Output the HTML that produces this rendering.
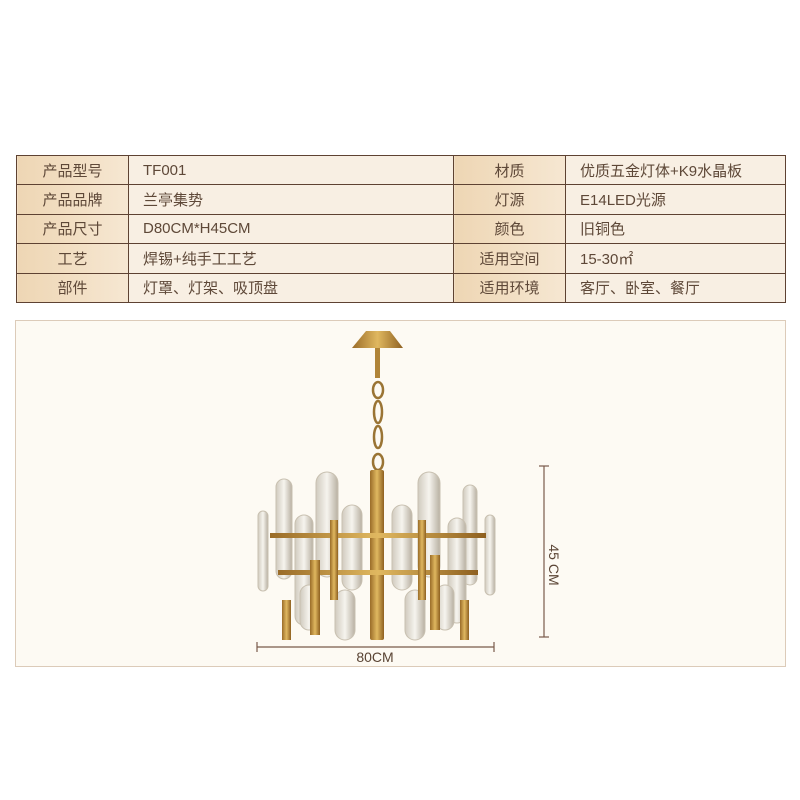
<!DOCTYPE html>
<html><head><meta charset="utf-8"><style>
body{margin:0;width:800px;height:800px;background:#fff;position:relative;overflow:hidden;font-family:"Liberation Sans","Noto Sans CJK SC",sans-serif;}
table{position:absolute;left:16px;top:155px;width:769px;border-collapse:collapse;table-layout:fixed;}
td{border:1px solid #5e4232;height:28.4px;padding:0;font-size:15px;color:#5e4838;}
td.l{background:linear-gradient(90deg,#eed6b4,#f6e7d2);text-align:center;}
td.v{background:#f8efe3;padding-left:14px;}
.panel{position:absolute;left:15px;top:320px;width:769px;height:345px;background:#fdfaf3;border:1px solid #dccbb9;}
</style></head><body>
<table>
<colgroup><col style="width:112px"><col style="width:325px"><col style="width:112px"><col style="width:220px"></colgroup>
<tr><td class="l">产品型号</td><td class="v">TF001</td><td class="l">材质</td><td class="v">优质五金灯体+K9水晶板</td></tr>
<tr><td class="l">产品品牌</td><td class="v">兰亭集势</td><td class="l">灯源</td><td class="v">E14LED光源</td></tr>
<tr><td class="l">产品尺寸</td><td class="v">D80CM*H45CM</td><td class="l">颜色</td><td class="v">旧铜色</td></tr>
<tr><td class="l">工艺</td><td class="v">焊锡+纯手工工艺</td><td class="l">适用空间</td><td class="v">15-30㎡</td></tr>
<tr><td class="l">部件</td><td class="v">灯罩、灯架、吸顶盘</td><td class="l">适用环境</td><td class="v">客厅、卧室、餐厅</td></tr>
</table>
<div class="panel"></div>
<svg style="position:absolute;left:0;top:0" width="800" height="800">
<defs><linearGradient id="g" x1="0" x2="1"><stop offset="0" stop-color="#9a6c28"/><stop offset=".5" stop-color="#e0b860"/><stop offset="1" stop-color="#8e6020"/></linearGradient>
<linearGradient id="c" x1="0" x2="1"><stop offset="0" stop-color="#d0cabe"/><stop offset=".5" stop-color="#f6f4ee"/><stop offset="1" stop-color="#b8b0a2"/></linearGradient></defs>
<path d="M352 348 L366 331 L390 331 L403 348 Z" fill="url(#g)"/>
<rect x="375" y="348" width="5" height="30" fill="#b08438"/>
<g fill="none" stroke="#9a7434" stroke-width="2.5"><ellipse cx="378" cy="390" rx="5" ry="8"/><ellipse cx="378" cy="412" rx="4" ry="11"/><ellipse cx="378" cy="437" rx="4" ry="11"/><ellipse cx="378" cy="462" rx="5" ry="8"/></g>
<g fill="url(#c)" stroke="#c8c0b0" stroke-width="1">
<rect x="258" y="511" width="10" height="80" rx="5"/><rect x="276" y="479" width="16" height="100" rx="8"/><rect x="316" y="472" width="22" height="105" rx="11"/><rect x="295" y="515" width="18" height="110" rx="9"/>
<rect x="342" y="505" width="20" height="85" rx="10"/><rect x="392" y="505" width="20" height="85" rx="10"/><rect x="418" y="472" width="22" height="105" rx="11"/>
<rect x="463" y="485" width="14" height="100" rx="7"/><rect x="485" y="515" width="10" height="80" rx="5"/><rect x="448" y="518" width="18" height="105" rx="9"/>
<rect x="335" y="590" width="20" height="50" rx="10"/><rect x="405" y="590" width="20" height="50" rx="10"/><rect x="300" y="585" width="18" height="45" rx="9"/><rect x="436" y="585" width="18" height="45" rx="9"/>
</g>
<g fill="url(#g)">
<rect x="370" y="470" width="14" height="170" rx="2"/><rect x="270" y="533" width="216" height="5"/><rect x="278" y="570" width="200" height="5"/>
<rect x="310" y="560" width="10" height="75"/><rect x="430" y="555" width="10" height="75"/><rect x="330" y="520" width="8" height="80"/><rect x="418" y="520" width="8" height="80"/>
<rect x="282" y="600" width="9" height="40"/><rect x="460" y="600" width="9" height="40"/>
</g>
<g stroke="#7a5a4a" stroke-width="1.2" fill="none">
<line x1="544" y1="466" x2="544" y2="637"/><line x1="539" y1="466" x2="549" y2="466"/><line x1="539" y1="637" x2="549" y2="637"/>
<line x1="257" y1="647" x2="494" y2="647"/><line x1="257" y1="642" x2="257" y2="652"/><line x1="494" y1="642" x2="494" y2="652"/>
</g>
<text x="375" y="662" font-size="14" fill="#5a4434" text-anchor="middle" font-family="Liberation Sans,sans-serif">80CM</text>
<text transform="translate(549,565) rotate(90)" font-size="14" fill="#5a4434" text-anchor="middle" font-family="Liberation Sans,sans-serif">45 CM</text>
</svg>
</body></html>
